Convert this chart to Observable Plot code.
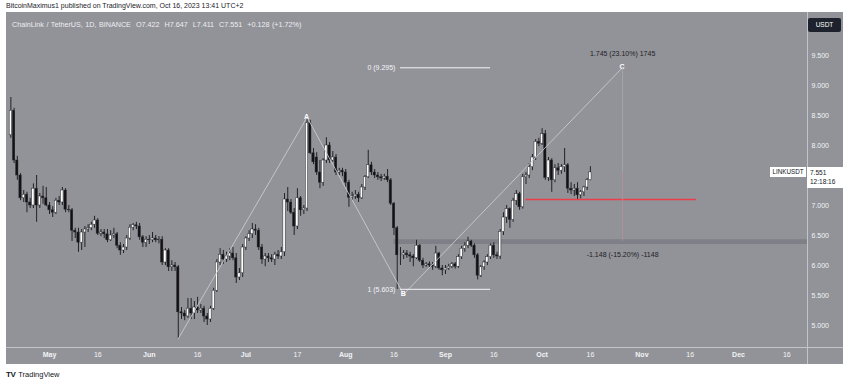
<!DOCTYPE html>
<html><head><meta charset="utf-8">
<script src="https://cdn.jsdelivr.net/npm/d3@7"></script>
<script src="https://cdn.jsdelivr.net/npm/@observablehq/plot@0.6"></script>
<style>
html,body{margin:0;padding:0;background:#fff;}
#wrap{position:relative;width:850px;height:385px;overflow:hidden;font-family:"Liberation Sans",Arial,sans-serif;}
#panel{position:absolute;left:6px;top:12px;width:837px;height:352px;background:#929399;}
#hsep{position:absolute;left:6px;top:347px;width:837px;height:1px;background:#c3c4c9;}
#vsep{position:absolute;left:807px;top:12px;width:1px;height:352px;background:#c3c4c9;}
#chart{position:absolute;left:0;top:0;}
.t{position:absolute;white-space:nowrap;line-height:1;}
#pub{left:6px;top:2px;font-size:7px;color:#1b1b1f;}
#title{left:12px;top:21px;font-size:7.2px;color:#ededf0;word-spacing:0.5px;}
#usdt{left:808px;top:18px;width:33px;height:14px;background:#1e222d;border-radius:2px;color:#fff;font-size:6.5px;text-align:center;line-height:14px;}
#sym{left:770px;width:36px;height:10px;background:#fff;color:#131722;font-size:6.3px;line-height:10px;text-align:center;}
#pbox{left:807px;width:36px;height:21px;background:#fff;}
.pl{left:810px;color:#131722;font-size:6.5px;line-height:8px;}
#footer{left:6px;top:371px;font-size:7.5px;color:#131722;}
#footer b{font-size:8px;letter-spacing:-0.5px;margin-right:3px;}
</style></head>
<body>
<div id="wrap">
  <div id="panel"></div>
  <div id="chart"></div>
  <div id="hsep"></div>
  <div id="vsep"></div>
  <div class="t" id="pub">BitcoinMaximus1 published on TradingView.com, Oct 16, 2023 13:41 UTC+2</div>
  <div class="t" id="title">ChainLink / TetherUS, 1D, BINANCE&nbsp;&nbsp;O7.422&nbsp;&nbsp;H7.647&nbsp;&nbsp;L7.411&nbsp;&nbsp;C7.551&nbsp;&nbsp;+0.128 (+1.72%)</div>
  <div class="t" id="usdt">USDT</div>
  <div class="t" id="sym">LINKUSDT</div>
  <div id="pbox" style="position:absolute;"></div>
  <div class="t pl" id="pl1">7.551</div>
  <div class="t pl" id="pl2">12:18:16</div>
  <div class="t" id="footer"><b>TV</b>TradingView</div>
</div>
<script>
// ---------- data (daily candles, 2023-04-19 .. 2023-10-16) ----------
const startDate = "2023-04-19";
const open = [
  8.17,8.58,7.75,7.50,7.12,7.18,7.05,7.00,7.28,7.00,7.15,7.12,
  7.00,6.92,6.88,7.08,7.05,7.25,6.93,6.92,6.58,6.55,6.38,6.55,6.60,6.62,6.68,6.75,6.53,6.55,6.52,6.42,6.50,6.52,6.33,6.25,6.30,6.45,6.63,6.67,6.65,6.47,6.38,
  6.43,6.42,6.45,6.42,6.43,6.05,6.25,5.97,6.00,5.97,5.22,5.20,5.15,5.28,5.20,5.30,5.25,5.28,5.15,5.10,5.28,5.58,6.05,6.18,6.10,6.15,6.20,6.12,5.80,5.87,
  6.30,6.45,6.52,6.60,6.58,6.30,6.10,6.15,6.12,6.10,6.18,6.15,6.22,7.10,7.05,6.88,6.65,7.12,6.92,6.95,8.37,7.87,7.80,7.55,7.38,7.75,8.00,7.75,7.80,7.55,7.58,
  7.55,7.38,7.13,7.15,7.18,7.12,7.30,7.47,7.67,7.55,7.50,7.47,7.45,7.48,7.42,7.03,6.62,6.17,6.17,6.20,6.17,6.15,6.12,6.33,6.08,6.00,6.02,6.00,5.98,6.20,5.95,
  5.92,5.95,5.98,6.02,5.98,6.14,6.28,6.33,6.40,6.33,6.17,5.83,5.97,6.05,6.14,6.33,6.17,6.15,6.56,6.80,6.94,6.76,7.08,7.19,6.97,7.47,7.50,7.64,7.80,8.06,
  8.03,8.19,7.46,7.75,7.42,7.62,7.58,7.64,7.67,7.28,7.25,7.28,7.17,7.22,7.30,7.422
];
const high = [
  8.80,8.62,7.82,7.53,7.25,7.22,7.12,7.36,7.50,7.20,7.32,7.30,
  7.05,6.98,7.12,7.15,7.30,7.28,7.00,6.95,6.62,6.62,6.60,6.65,6.68,6.72,6.82,6.78,6.60,6.60,6.60,6.58,6.62,6.55,6.38,6.35,6.50,6.68,6.70,6.72,6.70,6.50,6.48,
  6.50,6.55,6.50,6.48,6.48,6.28,6.28,6.08,6.05,6.00,5.30,5.25,5.45,5.45,5.40,5.47,5.35,5.32,5.20,5.32,5.62,6.10,6.28,6.25,6.22,6.28,6.30,6.20,5.95,6.35,
  6.48,6.58,6.70,6.68,6.62,6.35,6.20,6.20,6.18,6.22,6.25,6.30,7.20,7.30,7.10,6.95,7.28,7.15,7.00,8.47,8.42,7.95,7.88,7.75,7.78,8.13,8.05,7.90,7.85,7.62,7.62,
  7.60,7.42,7.22,7.25,7.22,7.35,7.50,7.92,7.72,7.60,7.55,7.52,7.52,7.60,7.45,7.05,6.65,6.30,6.25,6.25,6.22,6.18,6.42,6.35,6.12,6.05,6.06,6.05,6.32,6.22,6.00,
  6.00,6.02,6.05,6.05,6.18,6.32,6.38,6.47,6.42,6.36,6.20,6.00,6.08,6.18,6.36,6.38,6.22,6.60,6.88,7.00,6.96,7.12,7.25,7.22,7.52,7.55,7.70,7.85,8.10,8.12,
  8.28,8.25,7.80,7.78,7.68,7.70,7.68,7.95,7.70,7.38,7.35,7.38,7.25,7.32,7.45,7.647
];
const low = [
  8.12,7.70,7.42,7.08,7.05,6.88,6.95,6.95,6.72,6.95,7.02,6.98,
  6.85,6.80,6.85,7.00,7.00,6.88,6.88,6.40,6.45,6.22,6.25,6.30,6.55,6.58,6.62,6.50,6.48,6.45,6.38,6.40,6.45,6.28,6.17,6.20,6.25,6.42,6.58,6.60,6.42,6.30,6.30,
  6.35,6.38,6.38,6.36,6.00,6.00,5.90,5.90,5.90,4.78,5.10,5.08,5.12,5.10,5.10,5.20,5.20,5.05,5.00,5.05,5.25,5.55,6.00,6.02,6.05,6.08,6.08,5.70,5.75,5.80,
  6.25,6.40,6.45,6.50,6.25,6.02,5.98,6.05,6.05,6.00,6.10,6.10,6.15,6.90,6.85,6.50,6.60,6.82,6.85,6.90,7.85,7.68,7.50,7.28,7.32,7.70,7.70,7.72,7.50,7.50,7.48,
  7.30,6.97,7.08,7.10,7.05,7.10,7.25,7.45,7.50,7.45,7.42,7.40,7.42,7.38,7.00,6.50,5.60,6.00,6.10,6.12,6.05,5.98,6.10,6.05,5.95,5.97,5.96,5.92,5.95,5.92,5.83,
  5.85,5.92,5.95,5.94,5.95,6.10,6.22,6.28,6.30,6.12,5.76,5.80,5.92,6.00,6.10,6.12,6.10,6.10,6.50,6.70,6.62,6.72,7.00,6.92,6.94,7.35,7.45,7.58,7.75,7.98,
  8.00,7.42,7.40,7.22,7.38,7.50,7.52,7.55,7.20,7.18,7.15,7.10,7.11,7.15,7.25,7.411
];
const close = [
  8.58,7.75,7.50,7.12,7.18,7.05,7.00,7.28,7.00,7.15,7.12,7.00,
  6.92,6.88,7.08,7.05,7.25,6.93,6.92,6.58,6.55,6.38,6.55,6.60,6.62,6.68,6.75,6.53,6.55,6.52,6.42,6.50,6.52,6.33,6.25,6.30,6.45,6.63,6.67,6.65,6.47,6.38,6.43,
  6.42,6.45,6.42,6.43,6.05,6.25,5.97,6.00,5.97,5.22,5.20,5.15,5.28,5.20,5.30,5.25,5.28,5.15,5.10,5.28,5.58,6.05,6.18,6.10,6.15,6.20,6.12,5.80,5.87,6.30,
  6.45,6.52,6.60,6.58,6.30,6.10,6.15,6.12,6.10,6.18,6.15,6.22,7.10,7.05,6.88,6.65,7.12,6.92,6.95,8.37,7.87,7.72,7.55,7.38,7.75,8.00,7.75,7.80,7.55,7.58,7.55,
  7.38,7.13,7.15,7.18,7.12,7.30,7.47,7.67,7.55,7.50,7.47,7.45,7.48,7.42,7.03,6.62,6.17,6.17,6.20,6.17,6.15,6.12,6.33,6.08,6.00,6.02,6.00,5.98,6.20,5.95,5.92,
  5.95,5.98,6.02,5.98,6.14,6.28,6.33,6.40,6.33,6.17,5.83,5.97,6.05,6.14,6.33,6.17,6.15,6.56,6.80,6.94,6.76,7.08,7.19,6.97,7.47,7.50,7.64,7.80,8.06,8.03,
  8.19,7.46,7.75,7.42,7.62,7.58,7.64,7.67,7.28,7.25,7.28,7.17,7.22,7.30,7.42,7.551
];

// Elliott / fib annotations
const waveDates = ["2023-06-10","2023-07-20","2023-08-19","2023-10-26"];
const waveValues = [4.78, 8.47, 5.52, 9.30];
const waveLabels = ["", "A", "B", "C"];
const fibLevels = [9.295, 5.603];
const fibLabels = ["0 (9.295)", "1 (5.603)"];
const fibRange = ["2023-08-18", "2023-09-15"];
const supportLevel = 7.10;
const supportRange = ["2023-09-26", "2023-11-18"];
const zoneLow = 6.35, zoneHigh = 6.43, zoneStart = "2023-08-16";
const measureDate = "2023-10-26";
const measureValues = [9.296, 7.551, 6.403];
const measureLabels = ["1.745 (23.10%) 1745", "-1.148 (-15.20%) -1148"];

// axis ticks (7.500 is hidden behind the last-price label in the reference)
const priceTicks = [5.0, 5.5, 6.0, 6.5, 7.0, 8.0, 8.5, 9.0, 9.5];
const monthTicks = ["2023-05-01","2023-06-01","2023-07-01","2023-08-01","2023-09-01","2023-10-01","2023-11-01","2023-12-01"];
const monthLabels = ["May","Jun","Jul","Aug","Sep","Oct","Nov","Dec"];
const dayTicks = ["2023-05-16","2023-06-16","2023-07-17","2023-08-16","2023-09-16","2023-10-16","2023-11-16","2023-12-16"];
const dayLabels = ["16","16","17","16","16","16","16","16"];

// ---------- build ----------
const DAY = 86400000;
const D = s => new Date(s + "T00:00:00Z");
const t0 = D(startDate);
const candles = close.map((c, i) => ({date: new Date(+t0 + i * DAY), o: open[i], h: high[i], l: low[i], c}));

// x calibration: May 1 -> px 49, Dec 1 -> px 738; plot area 6..807
const pxPerDay = (738 - 49) / 214;
const may1 = +D("2023-05-01");
const xDomain = [new Date(may1 - (49 - 6) / pxPerDay * DAY), new Date(may1 + (807 - 49) / pxPerDay * DAY)];
// y calibration: 8.0 -> px 145, 60 px per unit; plot area 12..347
const yDomain = [8 - (347 - 145) / 60, 8 + (145 - 12) / 60];

const half = 0.36 * DAY;
const waves = waveDates.map((d, i) => ({date: D(d), v: waveValues[i], label: waveLabels[i]}));
const fibs = fibLevels.map((v, i) => ({v, label: fibLabels[i]}));
const monthMap = new Map(monthTicks.map((d, i) => [+D(d), monthLabels[i]]));
const dayMap = new Map(dayTicks.map((d, i) => [+D(d), dayLabels[i]]));
const lab = "#f3f3f5";

const chart = Plot.plot({
  width: 850, height: 385,
  marginLeft: 6, marginRight: 43, marginTop: 12, marginBottom: 38,
  x: {type: "utc", domain: xDomain, axis: null},
  y: {domain: yDomain, axis: null},
  style: {background: "transparent", fontFamily: "Liberation Sans, Arial, sans-serif", overflow: "visible"},
  marks: [
    Plot.rect([0], {x1: D(zoneStart), x2: xDomain[1], y1: zoneLow, y2: zoneHigh, fill: "#7f8087"}),
    Plot.ruleX(candles, {x: "date", y1: "l", y2: "h", stroke: "#222327", strokeWidth: 1}),
    Plot.rect(candles, {
      x1: d => new Date(+d.date - half), x2: d => new Date(+d.date + half),
      y1: d => Math.min(d.o, d.c), y2: d => Math.max(d.o, d.c),
      fill: d => d.c >= d.o ? "#ffffff" : "#121215", stroke: "#2a2b2f", strokeWidth: 0.5
    }),
    // wave lines
    Plot.line(waves, {x: "date", y: "v", stroke: "#c9cacf", strokeWidth: 0.9}),
    Plot.text(waves.slice(1), {x: "date", y: "v", text: "label", fill: "#ffffff", fontSize: 7, fontWeight: "bold",
      dy: d => d.label === "B" ? 10 : -10, dx: d => d.label === "A" ? 3 : 0}),
    // fib lines
    Plot.ruleY(fibs, {y: "v", x1: D(fibRange[0]), x2: D(fibRange[1]), stroke: "#f4f4f6", strokeWidth: 1}),
    Plot.text(fibs, {x: D(fibRange[0]), y: "v", text: "label", textAnchor: "end", dx: -5, fill: "#f4f4f6", fontSize: 7}),
    // support line
    Plot.ruleY([supportLevel], {x1: D(supportRange[0]), x2: D(supportRange[1]), stroke: "#ec3d4b", strokeWidth: 1.3}),
    // measurement
    Plot.ruleX([D(measureDate)], {y1: measureValues[0], y2: measureValues[1], stroke: "#a9aab0", strokeWidth: 0.8}),
    Plot.ruleX([D(measureDate)], {y1: measureValues[1], y2: measureValues[2], stroke: "#b89298", strokeWidth: 0.8}),
    Plot.text([measureLabels[0]], {x: D(measureDate), y: measureValues[0], text: d => d, dy: -14, fill: "#1d1d22", fontSize: 7}),
    Plot.text([measureLabels[1]], {x: D(measureDate), y: measureValues[2], text: d => d, dy: 13, fill: "#1d1d22", fontSize: 7}),
    // axes
    Plot.axisY(priceTicks, {anchor: "right", tickSize: 0, tickPadding: 4, tickFormat: d3.format(".3f"), fill: lab, fontSize: 7}),
    Plot.axisX(monthTicks.map(D), {anchor: "bottom", tickSize: 0, tickPadding: 5, tickFormat: d => monthMap.get(+d), fill: lab, fontSize: 7, fontWeight: "bold"}),
    Plot.axisX(dayTicks.map(D), {anchor: "bottom", tickSize: 0, tickPadding: 5, tickFormat: d => dayMap.get(+d), fill: lab, fontSize: 7})
  ]
});
document.getElementById("chart").appendChild(chart);

// price labels on the right axis
const yLast = chart.scale("y").apply(close[close.length - 1]);
document.getElementById("sym").style.top = (yLast - 5) + "px";
document.getElementById("pbox").style.top = (yLast - 5) + "px";
document.getElementById("pl1").style.top = (yLast - 3) + "px";
document.getElementById("pl2").style.top = (yLast + 6) + "px";
</script>
</body></html>
